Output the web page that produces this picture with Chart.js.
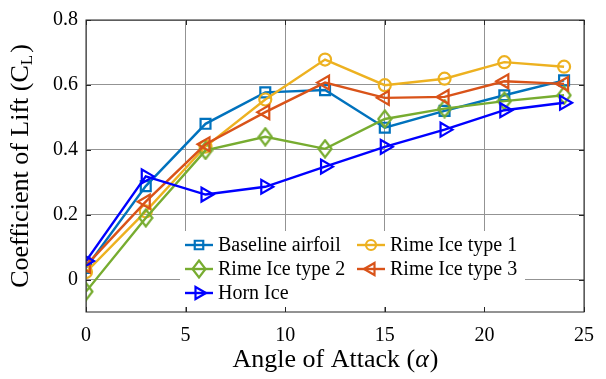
<!DOCTYPE html>
<html>
<head>
<meta charset="utf-8">
<script src="https://cdn.jsdelivr.net/npm/chart.js@4/dist/chart.umd.min.js"></script>
<style>
  html, body { margin: 0; padding: 0; background: #ffffff; }
  #wrap { width: 606px; height: 379px; position: relative; }
</style>
</head>
<body>
<div id="wrap"><canvas id="cl"></canvas></div>
<script>
// Angle of attack (degrees)
const angles = [0, 3, 6, 9, 12, 15, 18, 21, 24];

// Lift coefficient per configuration
const baseline = [0.036, 0.288, 0.480, 0.577, 0.584, 0.468, 0.520, 0.568, 0.614];
const rime1    = [0.023, 0.210, 0.410, 0.555, 0.678, 0.599, 0.619, 0.670, 0.656];
const rime2    = [-0.037, 0.190, 0.398, 0.440, 0.403, 0.495, 0.527, 0.550, 0.568];
const rime3    = [0.043, 0.240, 0.417, 0.516, 0.607, 0.560, 0.563, 0.611, 0.603];
const horn     = [0.057, 0.318, 0.262, 0.286, 0.348, 0.409, 0.462, 0.522, 0.545];

// Axis ticks
const xTicks = [0, 5, 10, 15, 20, 25];
const yTicks = [0, 0.2, 0.4, 0.6, 0.8];

const SERIF = "'Liberation Serif', 'Times New Roman', serif";
const AXIS_COLOR = '#262626';

// Tall, narrow diamond marker
function diamondMarker(color) {
  const c = document.createElement('canvas');
  c.width = 16; c.height = 20;
  const g = c.getContext('2d');
  g.strokeStyle = color; g.lineWidth = 2.2;
  g.beginPath();
  g.moveTo(8, 1.5); g.lineTo(14.5, 10); g.lineTo(8, 18.5); g.lineTo(1.5, 10); g.closePath();
  g.stroke();
  return c;
}

const pts = ys => angles.map((x, i) => ({ x: x, y: ys[i] }));

const series = [
  { label: 'Baseline airfoil', data: baseline, color: '#0072BD', style: 'rect', radius: 7, rotation: 0, order: 5 },
  { label: 'Rime Ice type 1',  data: rime1,    color: '#EDB120', style: 'circle', radius: 6, rotation: 0, order: 4 },
  { label: 'Rime Ice type 2',  data: rime2,    color: '#77AC30', style: diamondMarker('#77AC30'), radius: 8, rotation: 0, order: 3 },
  { label: 'Rime Ice type 3',  data: rime3,    color: '#D95319', style: 'triangle', radius: 8, rotation: -90, order: 2 },
  { label: 'Horn Ice',         data: horn,     color: '#0000FF', style: 'triangle', radius: 8, rotation: 90, order: 1 }
];

const datasets = series.map(s => ({
  label: s.label,
  data: pts(s.data),
  borderColor: s.color,
  backgroundColor: s.color,
  borderWidth: 2.4,
  pointStyle: s.style,
  pointRadius: s.radius,
  pointRotation: s.rotation,
  pointBorderColor: s.color,
  pointBackgroundColor: 'rgba(0,0,0,0)',
  pointBorderWidth: 2.2,
  pointHoverRadius: s.radius,
  order: s.order,
  tension: 0
}));

// Box frame with inward ticks, axis titles and the in-plot legend
const decorations = {
  id: 'decorations',
  afterDatasetsDraw(chart) {
    const { ctx, chartArea: a, scales } = chart;
    ctx.save();
    ctx.strokeStyle = AXIS_COLOR;
    ctx.lineWidth = 1;
    ctx.strokeRect(a.left, a.top, a.right - a.left, a.bottom - a.top);
    const tl = 5;
    ctx.beginPath();
    xTicks.forEach(v => {
      const px = Math.round(scales.x.getPixelForValue(v)) + 0.5;
      ctx.moveTo(px, a.bottom); ctx.lineTo(px, a.bottom - tl);
      ctx.moveTo(px, a.top); ctx.lineTo(px, a.top + tl);
    });
    yTicks.forEach(v => {
      const py = Math.round(scales.y.getPixelForValue(v)) + 0.5;
      ctx.moveTo(a.left, py); ctx.lineTo(a.left + tl, py);
      ctx.moveTo(a.right, py); ctx.lineTo(a.right - tl, py);
    });
    ctx.stroke();
    ctx.restore();
  },
  afterDraw(chart) {
    const { ctx, chartArea: a } = chart;
    ctx.save();
    ctx.fillStyle = '#000000';
    ctx.textBaseline = 'middle';

    // x-axis title with italic alpha
    const f = '26px ' + SERIF, fi = 'italic 26px ' + SERIF;
    const p1 = 'Angle of Attack (', p2 = '\u03B1', p3 = ')';
    ctx.font = f; const w1 = ctx.measureText(p1).width, w3 = ctx.measureText(p3).width;
    ctx.font = fi; const w2 = ctx.measureText(p2).width;
    let x0 = (a.left + a.right) / 2 - (w1 + w2 + w3) / 2;
    const ty = 360;
    ctx.textAlign = 'left';
    ctx.font = f; ctx.fillText(p1, x0, ty);
    ctx.font = fi; ctx.fillText(p2, x0 + w1, ty);
    ctx.font = f; ctx.fillText(p3, x0 + w1 + w2 + 1, ty);

    // y-axis title with subscript L
    ctx.save();
    ctx.translate(21, (a.top + a.bottom) / 2);
    ctx.rotate(-Math.PI / 2);
    const q1 = 'Coefficient of Lift (C', q2 = 'L', q3 = ')';
    const fs = '17px ' + SERIF;
    ctx.font = f; const v1 = ctx.measureText(q1).width, v3 = ctx.measureText(q3).width;
    ctx.font = fs; const v2 = ctx.measureText(q2).width;
    let s0 = -(v1 + v2 + v3 + 2) / 2;
    ctx.font = f; ctx.fillText(q1, s0, 0);
    ctx.font = fs; ctx.fillText(q2, s0 + v1, 7);
    ctx.font = f; ctx.fillText(q3, s0 + v1 + v2 + 2, 0);
    ctx.restore();

    // legend box
    const lx = 180, ly = 231, lw = 345, lh = 76;
    ctx.fillStyle = '#ffffff';
    ctx.fillRect(lx, ly, lw, lh);
    const cols = [185, 357];
    const rows = [245, 269, 293];
    ctx.font = '20px ' + SERIF;
    series.forEach((s, i) => {
      const cx = cols[i % 2], cy = rows[Math.floor(i / 2)];
      ctx.strokeStyle = s.color;
      ctx.lineWidth = 2.4;
      ctx.beginPath(); ctx.moveTo(cx, cy); ctx.lineTo(cx + 28, cy); ctx.stroke();
      ctx.lineWidth = 2.2;
      ctx.fillStyle = 'rgba(0,0,0,0)';
      Chart.helpers.drawPoint(ctx, {
        pointStyle: s.style, radius: s.radius - 1, rotation: s.rotation, borderWidth: 2.2
      }, cx + 14, cy);
      ctx.fillStyle = '#000000';
      ctx.textAlign = 'left';
      ctx.fillText(s.label, cx + 33, cy + 1);
    });
    ctx.restore();
  }
};

new Chart(document.getElementById('cl'), {
  type: 'line',
  data: { datasets },
  options: {
    responsive: true,
    maintainAspectRatio: false,
    animation: false,
    events: [],
    layout: { padding: { top: 16, right: 13, left: 0, bottom: 0 } },
    plugins: { legend: { display: false }, tooltip: { enabled: false } },
    scales: {
      x: {
        type: 'linear',
        min: 0, max: 25,
        afterBuildTicks: sc => { sc.ticks = xTicks.map(v => ({ value: v })); },
        afterFit: sc => { sc.height = 67; },
        grid: { color: '#939393', lineWidth: 1, drawTicks: false },
        border: { display: false },
        ticks: { color: '#000000', font: { family: SERIF, size: 20 }, padding: 12, maxRotation: 0, callback: v => String(v) }
      },
      y: {
        type: 'linear',
        min: -0.1, max: 0.8,
        afterBuildTicks: sc => { sc.ticks = yTicks.map(v => ({ value: v })); },
        afterFit: sc => { sc.width = 86; },
        grid: { color: '#939393', lineWidth: 1, drawTicks: false },
        border: { display: false },
        ticks: { color: '#000000', font: { family: SERIF, size: 20 }, padding: 8, callback: v => (v === 0 ? '0' : v.toFixed(1)) }
      }
    }
  },
  plugins: [decorations]
});
</script>
</body>
</html>
